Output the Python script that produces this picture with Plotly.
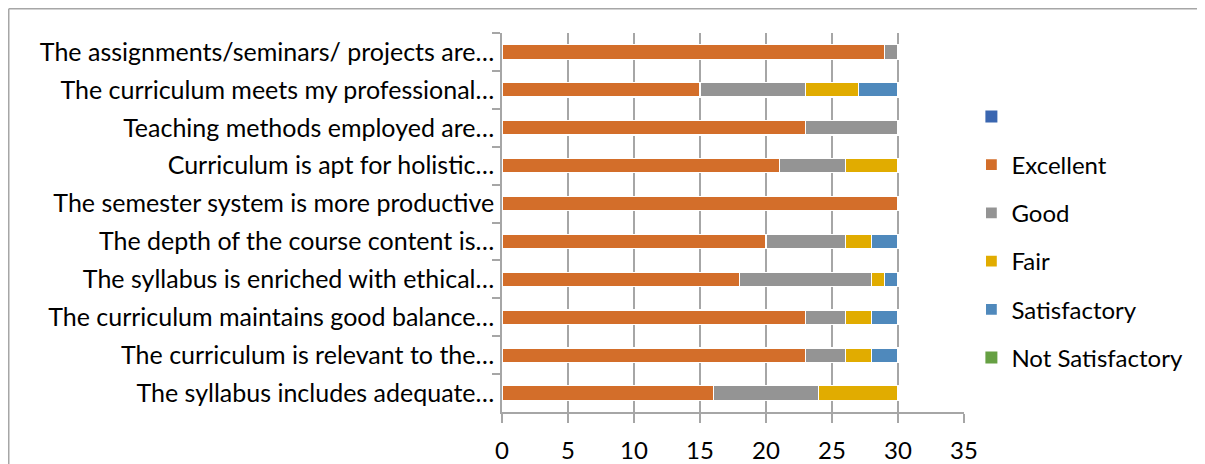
import plotly.graph_objects as go

categories = [
    "The assignments/seminars/ projects are…",
    "The curriculum meets my professional…",
    "Teaching methods employed are…",
    "Curriculum is apt for holistic…",
    "The semester system is more productive",
    "The depth of the course content is…",
    "The syllabus is enriched with ethical…",
    "The curriculum maintains good balance…",
    "The curriculum is relevant to the…",
    "The syllabus includes adequate…",
]
excellent = [29, 15, 23, 21, 30, 20, 18, 23, 23, 16]
good = [1, 8, 7, 5, 0, 6, 10, 3, 3, 8]
fair = [0, 4, 0, 4, 0, 2, 1, 2, 2, 6]
satisfactory = [0, 3, 0, 0, 0, 2, 1, 2, 2, 0]
not_satisfactory = [0, 0, 0, 0, 0, 0, 0, 0, 0, 0]
blank = [None] * 10

series_names = [" ", "Excellent", "Good", "Fair", "Satisfactory", "Not Satisfactory"]
series_values = [blank, excellent, good, fair, satisfactory, not_satisfactory]
colors = ["#3A66B0", "#D36E2A", "#949494", "#E1AC00", "#4F89BC", "#66A043"]

FONT = "Lato"
FS = 25

# page body has an 8px margin; compensate so the plot lands where the reference has it
W, H = 1197, 456
L, T = 494, 25
PW, PH = 462, 379

fig = go.Figure()
for i, (name, vals, col) in enumerate(zip(series_names, series_values, colors)):
    fig.add_trace(go.Bar(
        y=categories, x=vals, name=name, orientation="h",
        marker=dict(color=col, line=dict(color="white", width=1.2 if i in (1, 2, 3, 4) else 0)),
        legendgroup=f"g{i}",
        hoverinfo="x+name",
    ))

fig.update_layout(
    barmode="stack",
    bargap=0.62,
    width=W, height=H,
    margin=dict(l=L, r=W - L - PW, t=T, b=H - T - PH, autoexpand=False),
    paper_bgcolor="white", plot_bgcolor="white",
    font=dict(family=FONT, size=FS, color="#000000"),
    showlegend=True,
    legend=dict(
        x=1.016, xanchor="left", y=0.838, yanchor="top",
        traceorder="grouped", tracegroupgap=14,
        font=dict(family=FONT, size=24, color="#000000"),
        itemwidth=30,
        bgcolor="rgba(0,0,0,0)",
    ),
    xaxis=dict(
        range=[0, 35], tick0=0, dtick=5,
        showgrid=True, gridcolor="#A6A6A6", gridwidth=1.5,
        zeroline=False,
        showline=True, linecolor="#A6A6A6", linewidth=1.5,
        ticks="outside", ticklen=9, tickcolor="#A6A6A6", tickwidth=1.5,
        ticklabelstandoff=7,
        tickfont=dict(family=FONT, size=24),
        fixedrange=True,
    ),
    yaxis=dict(
        autorange="reversed",
        showline=True, linecolor="#A6A6A6", linewidth=1.5,
        ticks="outside", ticklen=8, tickcolor="#A6A6A6", tickwidth=1.5,
        tickson="boundaries",
        ticklabelstandoff=1,
        tickfont=dict(family=FONT, size=FS),
        showgrid=False,
        fixedrange=True,
    ),
    shapes=[
        dict(type="line", xref="paper", yref="paper",
             x0=(0.75 - L) / PW, x1=(W - L) / PW,
             y0=(T + PH - 0.75) / PH, y1=(T + PH - 0.75) / PH,
             line=dict(color="#A6A6A6", width=1.5)),
        dict(type="line", xref="paper", yref="paper",
             x0=(0.75 - L) / PW, x1=(0.75 - L) / PW,
             y0=(T + PH - 0.75) / PH, y1=(T + PH - H) / PH,
             line=dict(color="#A6A6A6", width=1.5)),
    ],
)

fig.write_html("out.html")
